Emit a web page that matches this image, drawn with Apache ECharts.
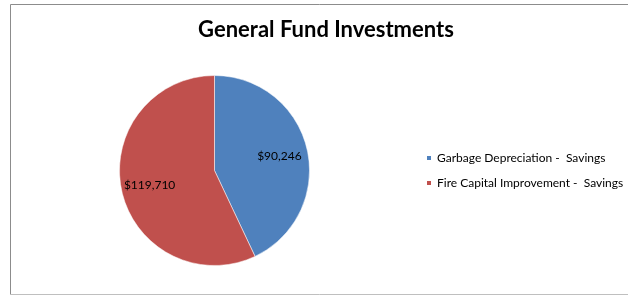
<!DOCTYPE html>
<html>
<head>
<meta charset="utf-8">
<script src="https://cdn.jsdelivr.net/npm/echarts@6/dist/echarts.min.js"></script>
<style>
html,body{margin:0;padding:0;background:#fff;}
#chart{width:628px;height:296px;}
</style>
</head>
<body>
<div id="chart"></div>
<script>
const titleText = 'General Fund Investments';
const categories = ['Garbage Depreciation -  Savings', 'Fire Capital Improvement -  Savings'];
const values = [90246, 119710];
const colors = ['#4F81BD', '#C0504D'];

const fmt = v => '$' + v.toLocaleString('en-US');
const pieData = categories.map((c, i) => ({ name: c, value: values[i], itemStyle: { color: colors[i] } }));
const labelData = categories.map((c, i) => ({ name: c, value: values[i] }));

const chart = echarts.init(document.getElementById('chart'), null, { renderer: 'canvas' });
chart.setOption({
  animation: false,
  backgroundColor: '#fff',
  title: {
    text: titleText,
    left: 326, top: 19,
    padding: 0,
    textAlign: 'center',
    textStyle: { fontFamily: 'Lato', fontWeight: 'bold', fontSize: 22, color: '#000' }
  },
  legend: {
    orient: 'vertical',
    left: 425, top: 151,
    padding: 0,
    data: categories,
    icon: 'rect',
    itemWidth: 6, itemHeight: 6,
    itemGap: 11,
    selectedMode: false,
    textStyle: { fontFamily: 'Lato', fontSize: 12, color: '#000', lineHeight: 14 }
  },
  graphic: [
    { type: 'line', shape: { x1: 10.5, y1: 4.5, x2: 628, y2: 4.5 }, style: { stroke: '#8c8c8c', lineWidth: 1 }, silent: true },
    { type: 'line', shape: { x1: 10.5, y1: 4.5, x2: 10.5, y2: 294.5 }, style: { stroke: '#8c8c8c', lineWidth: 1 }, silent: true },
    { type: 'line', shape: { x1: 10.5, y1: 294.5, x2: 628, y2: 294.5 }, style: { stroke: '#bfbfbf', lineWidth: 1 }, silent: true }
  ],
  series: [
    {
      type: 'pie',
      center: [214.5, 170.5],
      radius: [0, 95],
      startAngle: 90,
      clockwise: true,
      data: pieData,
      label: { show: false },
      labelLine: { show: false },
      itemStyle: { borderColor: '#ffffff', borderWidth: 0.5 },
      emphasis: { disabled: true },
      silent: true
    },
    {
      type: 'pie',
      center: [214.5, 170.5],
      radius: [32, 95],
      startAngle: 90,
      clockwise: true,
      data: labelData,
      itemStyle: { color: 'rgba(0,0,0,0)' },
      label: {
        show: true,
        position: 'inside',
        formatter: p => fmt(p.value),
        fontFamily: 'Lato', fontSize: 12, color: '#000'
      },
      labelLine: { show: false },
      emphasis: { disabled: true },
      silent: true
    }
  ]
});
</script>
</body>
</html>
